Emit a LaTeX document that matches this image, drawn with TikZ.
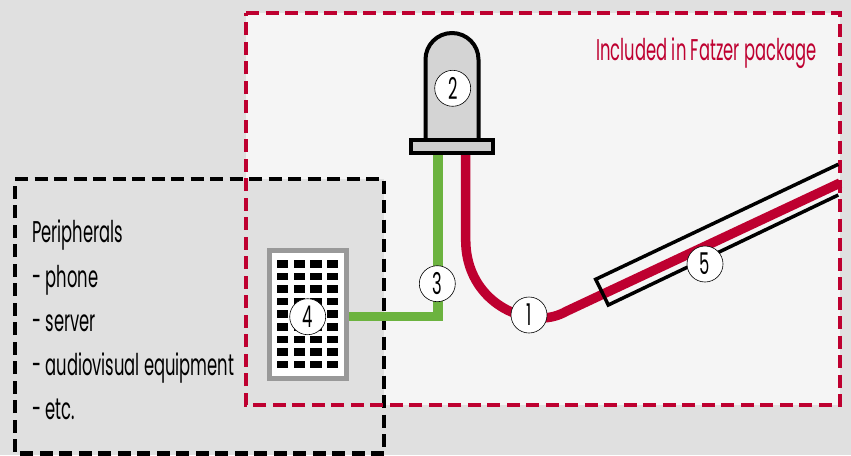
\documentclass[tikz,border=0pt]{standalone}
\usepackage{fontspec}
\setmainfont{Poppins}[FakeStretch=0.545]
\usetikzlibrary{positioning, calc}
\definecolor{fatzerred}{HTML}{BE0030}
\definecolor{wiregreen}{HTML}{6CB33F}
\definecolor{pagegray}{HTML}{E0E0E0}
\definecolor{insidegray}{HTML}{F5F5F5}

\begin{document}
\begin{tikzpicture}[
    x=1pt, y=-1pt,
    boxline/.style={line width=4.5pt, dash pattern=on 13pt off 6.5pt},
    wire/.style={line width=9.5pt, miter limit=10},
    jacket/.style={line width=3.5pt},
    numbered/.style={circle, draw, fill=white, line width=0.6pt, minimum size=36pt, inner sep=0pt, font=\fontsize{30}{30}\selectfont},
    textline/.style={anchor=base west, inner sep=0pt, font=\fontsize{30}{30}\selectfont},
]
\useasboundingbox (0,0) rectangle (851,455);
\fill[pagegray] (0,0) rectangle (851,455);

% boxes
\fill[insidegray] (246,13) rectangle (840,405);
\draw[boxline, fill=pagegray] (15,179) -- (384,179) -- (384,453.5) -- (15,453.5) -- cycle;
\draw[boxline, draw=fatzerred] (246,13) -- (840,13) -- (840,405) -- (246,405) -- cycle;

\node[textline, anchor=base east, text=fatzerred] (included) at (817,60) {Included in Fatzer package};

% peripherals list
\node[textline] (peripherals) at (32,242) {Peripherals};
\node[textline] (phone) at (32,287) {- phone};
\node[textline] (server) at (32,331) {- server};
\node[textline] (audio) at (32,375) {- audiovisual equipment};
\node[textline] (etc) at (32,419) {- etc.};

% lamp
\draw[draw=black, line width=4pt, fill=black!17] (425.5,140) -- (425.5,59.5) arc[start angle=180, end angle=360, radius=26.5] -- (478.5,140);
\node[draw, line width=4pt, fill=black!19, minimum width=81.7pt, minimum height=13.6pt, inner sep=0pt] (lampbase) at (451.8,146.5) {};

% breadboard
\node[draw=black!40, line width=5pt, fill=white, minimum width=77pt, minimum height=128pt, inner sep=0pt] (board) at (308,314.5) {};
\foreach \col in {0,...,3}{
    \foreach \row in {0,...,8}{
        \fill ($(282.7,263.7)+(\col*16.6,\row*12.62)$) ++(-5.7,-3.8) rectangle ++(11.4,7.6);
    }
}

% wires
\coordinate (greentop) at (438,155);
\coordinate (greencorner) at (438,316.3);
\coordinate (boardport) at (349,316.3);
\coordinate (redtop) at (465.7,155);
\coordinate (cableend) at (840,183);
\draw[wire, wiregreen] (greentop) -- (greencorner) -- (boardport);
\draw[wire, fatzerred] (redtop) -- (465.7,240) .. controls (465.7,290) and (505,318) .. (540,318) .. controls (550,318) and (558,316) .. (567,311) -- (cableend);

% cable jacket
\coordinate (jackettop) at (838.3,164.3);
\coordinate (jacketleft) at (595.7,279.3);
\coordinate (jacketlow) at (608.3,305);
\coordinate (jacketbottom) at (838.3,195);
\draw[jacket] (jackettop) -- (jacketleft) -- (jacketlow) -- (jacketbottom);

% numbers
\node[numbered] (n1) at (529,315) {1};
\node[numbered] (n2) at (452.7,88.3) {2};
\node[numbered] (n3) at (437.3,283.7) {3};
\node[numbered] (n4) at (307.7,316.7) {4};
\node[numbered] (n5) at (705,264) {5};

\end{tikzpicture}
\end{document}
